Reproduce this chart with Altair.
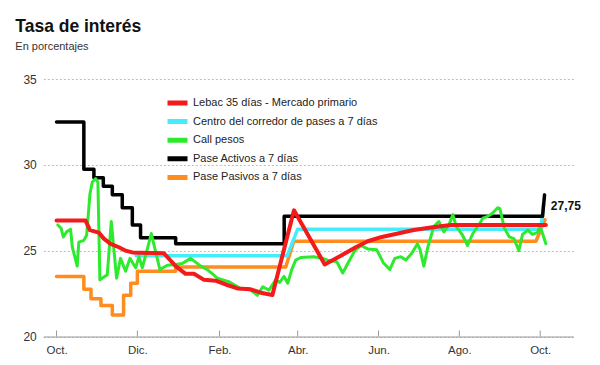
import altair as alt
import pandas as pd

# ---------------- data (day offsets from 2016-10-01, values in %) ----------------
BASE_DATE = "2016-10-01"

series_names = [
    "Lebac 35 días - Mercado primario",
    "Centro del corredor de pases a 7 días",
    "Call pesos",
    "Pase Activos a 7 días",
    "Pase Pasivos a 7 días",
]
series_colors = ["#f21a1a", "#45ecfa", "#2eea2e", "#000000", "#ff8c1f"]

lebac_days = [0, 21.9, 25.2, 31.9, 35.7, 40.8, 47.1, 52.1, 57.2, 63.4, 81.0, 89.9, 97.4,
              103.7, 111.3, 120.1, 128.9, 136.5, 146.5, 154.1, 162.9, 179.2, 202.4, 214.5,
              225.8, 234.9, 245.5, 257.6, 269.6, 282.5, 297.6, 369.3]
lebac_vals = [26.75, 26.75, 26.2, 26.05, 25.7, 25.4, 25.2, 25.0, 24.9, 24.88, 24.85, 24.1, 23.65,
              23.65, 23.3, 23.25, 23.0, 22.8, 22.75, 22.55, 22.42, 27.35, 24.2, 24.7,
              25.2, 25.55, 25.8, 26.0, 26.2, 26.35, 26.5, 26.5]

centro_days = [60, 174, 182, 365.6, 367.6]
centro_vals = [24.7, 24.7, 26.25, 26.25, 27.75]

call_days = [1.0, 3.5, 5.1, 7.6, 10.6, 11.9, 15.6, 16.8, 20.6, 22.7, 25.2, 27.0, 29.5, 31.2,
             32.7, 38.3, 41.3, 45.3, 48.3, 52.1, 55.4, 59.7, 62.2, 64.7, 68.0, 71.5, 78.0,
             83.6, 89.9, 94.9, 101.2, 108.8, 113.8, 121.4, 129.9, 139.0, 144.0, 146.5, 151.6,
             155.6, 160.3, 165.4, 168.4, 171.7, 174.5, 177.5, 180.5, 184.3, 194.1, 200.9,
             204.7, 211.5, 216.0, 220.5, 225.1, 229.6, 234.9, 241.7, 246.6, 251.5, 255.3,
             259.8, 263.6, 268.1, 272.4, 274.2, 277.2, 280.2, 284.7, 288.5, 292.3, 296.1,
             299.1, 301.7, 306.4, 310.2, 314.2, 318.7, 321.8, 325.5, 328.5, 332.9, 334.6,
             338.0, 341.7, 345.2, 348.9, 351.7, 355.7, 359.1, 362.9, 364.8, 366.8, 369.3]
call_vals = [26.5, 26.3, 25.8, 26.1, 26.25, 25.2, 24.1, 25.5, 25.6, 25.9, 28.3, 29.0, 29.2, 29.0,
             23.3, 23.6, 26.7, 23.4, 24.55, 23.8, 24.55, 24.0, 24.65, 24.0, 24.95, 26.0, 23.9,
             24.15, 24.2, 24.25, 24.55, 24.1, 23.9, 23.4, 23.2, 22.8, 22.8, 22.7, 22.4,
             22.9, 22.7, 23.3, 23.15, 23.5, 23.1, 23.9, 24.45, 24.6, 24.65, 24.55,
             24.45, 24.35, 23.7, 24.35, 25.0, 25.3, 25.1, 25.05, 24.3, 23.9, 24.55,
             24.65, 24.45, 24.85, 25.4, 25.1, 24.1, 25.2, 26.4, 26.7, 26.1, 26.5,
             27.1, 26.4, 25.9, 25.3, 26.0, 26.5, 26.9, 27.0, 27.15, 27.5, 27.45,
             26.3, 25.8, 25.7, 25.0, 25.95, 26.2, 25.95, 26.05, 26.4, 26.0, 25.4]

activos_days = [0, 20.6, 20.6, 28.2, 28.2, 35.3, 35.3, 42.1, 42.1, 49.6, 49.6, 57.2, 57.2,
                63.4, 63.4, 89.9, 89.9, 171.8, 171.8, 366.8, 368.3]
activos_vals = [32.5, 32.5, 29.75, 29.75, 29.25, 29.25, 28.75, 28.75, 28.25, 28.25, 27.5, 27.5,
                26.5, 26.5, 25.75, 25.75, 25.4, 25.4, 27.0, 27.0, 28.25]

pasivos_days = [0, 20.6, 20.6, 26, 26, 33.5, 33.5, 42.1, 42.1, 50.6, 50.6, 56, 56, 61, 61,
                89.9, 89.9, 173, 179, 361.8, 368.6]
pasivos_vals = [23.5, 23.5, 22.75, 22.75, 22.2, 22.2, 21.8, 21.8, 21.25, 21.25, 22.4, 22.4,
                23.1, 23.1, 23.8, 23.8, 24.05, 24.05, 25.55, 25.55, 26.8]

month_labels = ["Ene.", "Feb.", "Mar.", "Abr.", "May.", "Jun.", "Jul.", "Ago.", "Sep.",
                "Oct.", "Nov.", "Dic."]
tick_months = [(2016, 10), (2016, 12), (2017, 2), (2017, 4), (2017, 6), (2017, 8), (2017, 10)]
y_ticks = [20, 25, 30, 35]

final_label = "27,75"
final_label_day = 368.5
final_label_value = 27.75

# ---------------- build tables ----------------
all_days = [lebac_days, centro_days, call_days, activos_days, pasivos_days]
all_vals = [lebac_vals, centro_vals, call_vals, activos_vals, pasivos_vals]
base = pd.Timestamp(BASE_DATE)
rows = []
for name, ds, vs in zip(series_names, all_days, all_vals):
    for i, (d, v) in enumerate(zip(ds, vs)):
        rows.append({"serie": name, "idx": i,
                     "fecha": (base + pd.to_timedelta(d, unit="D")).strftime("%Y-%m-%dT%H:%M:%S"),
                     "valor": v})
df = pd.DataFrame(rows)

ticks_df = pd.DataFrame({"fecha": [f"{y}-{m:02d}-01T00:00:00" for y, m in tick_months]})
label_df = pd.DataFrame({
    "fecha": [(base + pd.to_timedelta(final_label_day, unit="D")).strftime("%Y-%m-%dT%H:%M:%S")],
    "valor": [final_label_value], "texto": [final_label]})

W, H = 530, 257.5
FONT = "Liberation Sans"

x_scale = alt.Scale(domain=[alt.DateTime(year=2016, month=9, date=21),
                            alt.DateTime(year=2017, month=10, date=26)])
y_scale = alt.Scale(domain=[20, 35], nice=False, zero=False)

label_expr = "[" + ",".join(f"'{m}'" for m in month_labels) + "][month(datum.value)]"
x_axis = alt.Axis(values=[alt.DateTime(year=y, month=m, date=1) for y, m in tick_months],
                  labelExpr=label_expr, title=None, ticks=False, grid=False,
                  domainColor="#9a9a9a", labelPadding=8, labelFontSize=11.5,
                  labelColor="#333333", labelFont=FONT)
y_axis = alt.Axis(values=y_ticks, title=None, domain=False, ticks=False, grid=True,
                  gridDash=[2, 2], gridColor="#bdbdbd", labelPadding=7, labelFontSize=12,
                  labelColor="#333333", labelFont=FONT)

color = alt.Color("serie:N",
                  scale=alt.Scale(domain=series_names, range=series_colors),
                  legend=alt.Legend(orient="none", legendX=121.7, legendY=16, title=None,
                                    symbolType="stroke", symbolStrokeWidth=5, symbolSize=400,
                                    labelFontSize=11, labelFont=FONT, labelColor="#222222",
                                    labelOffset=3, rowPadding=2.6, clipHeight=16, padding=0,
                                    labelLimit=300))

def line_layer(name, width):
    return alt.Chart(df).transform_filter(alt.datum.serie == name).mark_line(
        strokeWidth=width, strokeJoin="round", strokeCap="round").encode(
        x=alt.X("fecha:T", scale=x_scale, axis=x_axis),
        y=alt.Y("valor:Q", scale=y_scale, axis=y_axis),
        color=color,
        order="idx:Q")

ticks = alt.Chart(ticks_df).mark_rule(color="#9a9a9a", strokeWidth=1).encode(
    x=alt.X("fecha:T", scale=x_scale),
    y=alt.value(H - 6), y2=alt.value(H))

label = alt.Chart(label_df).mark_text(align="left", baseline="middle", dx=6, dy=2.5,
                                      fontSize=12, fontWeight="bold", font=FONT,
                                      color="#111111").encode(
    x=alt.X("fecha:T", scale=x_scale), y=alt.Y("valor:Q", scale=y_scale), text="texto:N")

chart = alt.layer(
    ticks,
    line_layer(series_names[4], 3.5),
    line_layer(series_names[1], 3.5),
    line_layer(series_names[3], 3.5),
    line_layer(series_names[2], 3),
    line_layer(series_names[0], 4),
    label,
).properties(
    width=W, height=H,
    title=alt.Title("Tasa de interés", subtitle="En porcentajes", anchor="start",
                    frame="group", dx=-28, offset=21, fontSize=17.5, font=FONT,
                    fontWeight="bold", color="#111111", subtitleFontSize=11,
                    subtitleFont=FONT, subtitleColor="#333333", subtitlePadding=6),
    autosize=alt.AutoSizeParams(type="none"),
    padding={"left": 35.3, "top": 71, "right": 18, "bottom": 20},
).configure_view(stroke=None)

chart.save("out.html", embed_options={"renderer": "svg", "actions": False})
